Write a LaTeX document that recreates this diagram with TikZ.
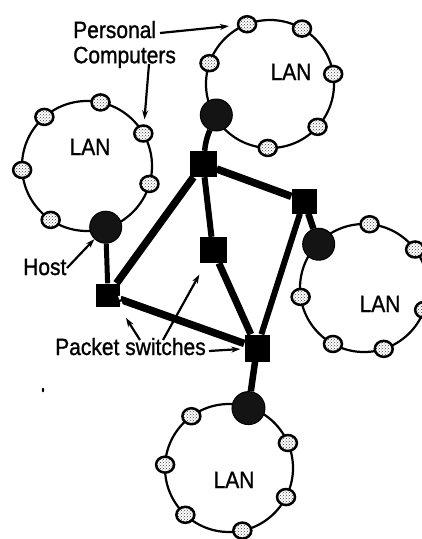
\documentclass[tikz,border=0pt]{standalone}
\usepackage{graphicx}
\usepackage{fontspec}
\setmainfont{Liberation Sans}[FakeBold=1.2]
\usetikzlibrary{shapes.geometric,arrows.meta,patterns,calc}
\newcommand\tallbox[1]{\scalebox{1}[1.12]{#1}}
\begin{document}
\begin{tikzpicture}[x=1pt,y=-1pt,
  ring/.style={draw, line width=2.2pt},
  pc/.style={ellipse, draw, line width=2.5pt, minimum width=18pt, minimum height=16pt, inner sep=0pt,
     preaction={fill=white}, pattern=crosshatch dots, pattern color=black!75},
  host/.style={circle, fill=black!92, draw=black, line width=1pt, minimum size=32pt, inner sep=0pt},
  switchbox/.style={rectangle, fill=black, minimum width=25pt, minimum height=25pt, inner sep=0pt},
  link/.style={line width=6pt},
  callout/.style={line width=2.2pt, -{Stealth[length=9pt,width=6pt]}},
  lab/.style={font=\fontsize{21}{23}\selectfont, inner sep=0pt}
]
\useasboundingbox (0,0) rectangle (422,539);
\clip (0,0) rectangle (422,539);

% ring centres
\coordinate (Ctop) at (270,84);
\coordinate (Cleft) at (87,166);
\coordinate (Cright) at (364,288);
\coordinate (Cbot) at (229,468);

% rings
\draw[ring] (Ctop) circle[radius=64];
\draw[ring] (Cleft) circle[radius=65];
\draw[ring] (Cright) circle[radius=64];
\draw[ring] (Cbot) circle[radius=64];

% LAN labels
\node[lab, anchor=base] (lanT) at (291,80) {\tallbox{LAN}};
\node[lab, anchor=base] (lanL) at (90,155) {\tallbox{LAN}};
\node[lab, anchor=base] (lanR) at (380,312) {\tallbox{LAN}};
\node[lab, anchor=base] (lanB) at (234,488) {\tallbox{LAN}};

% personal computers
\foreach \a [count=\i] in {249,-60,-9,42,92,199}
  \node[pc] (t\i) at ($(Ctop)+(\a:64)$) {};
\foreach \a [count=\i] in {-78,-30,16,124,176.5,-131}
  \node[pc] (l\i) at ($(Cleft)+(\a:65)$) {};
\foreach \a [count=\i] in {-85,-37,20,72,119,172}
  \node[pc] (r\i) at ($(Cright)+(\a:64)$) {};
\foreach \a [count=\i] in {-126,-23,183,27,133,78}
  \node[pc] (b\i) at ($(Cbot)+(\a:64)$) {};

% hosts
\node[host] (Htop) at ($(Ctop)+(150:62)$) {};
\node[host] (Hleft) at ($(Cleft)+(73:64)$) {};
\node[host] (Hright) at ($(Cright)+(-136:63)$) {};
\node[host, minimum size=33pt] (Hbot) at ($(Cbot)+(-72:63)$) {};

% packet switches
\node[switchbox, minimum width=27pt, minimum height=26pt] (S1) at (203,164) {};
\node[switchbox] (S2) at (304,201) {};
\node[switchbox, minimum width=27pt, minimum height=26pt] (S3) at (213,250) {};
\node[switchbox, minimum width=24pt, minimum height=23pt] (S4) at (108,295) {};
\node[switchbox, minimum width=25pt, minimum height=27pt] (S5) at (257,348) {};

% links
\draw[link, line width=5.5pt] (Htop) to[bend right=8] (S1);
\draw[link, line width=7.5pt] (S1) -- (S2);
\draw[link, line width=6pt] (S1) -- (S3);
\draw[link, line width=7.5pt] (S1) -- (S4);
\draw[link, line width=6pt] (S2) -- (S5);
\draw[link, line width=6.5pt] (S2) -- (Hright);
\draw[link, line width=7pt] (S3) -- (S5);
\draw[link, line width=7.5pt] (S4) -- (S5);
\draw[link, line width=5pt] (Hleft) -- (S4);
\draw[link, line width=6.5pt] (S5) -- (Hbot);

% labels
\node[lab, anchor=base west] (pcl) at (73,38)
  {\tallbox{\begin{tabular}[t]{@{}l@{}}Personal\\[-0.5pt]Computers\end{tabular}}};
\node[lab, anchor=base west] (hostl) at (23,275) {\tallbox{Host}};
\node[lab, anchor=base west] (psl) at (55,355) {\tallbox{Packet switches}};

% callout start points
\coordinate (pe) at (160,33);
\coordinate (ce) at (149,64);
\coordinate (he) at (67,268);
\coordinate (pa) at (140,340);
\coordinate (pb) at (163,340);
\coordinate (pc) at (209,351);
\coordinate (paTip) at (126,318);
\coordinate (paIn) at (119,296);

% callouts
\draw[callout, shorten >=8pt] (pe) -- (t1);
\draw[callout, shorten >=5pt] (ce) -- (l2);
\draw[callout] (he) -- (Hleft);
\draw[callout] (pa) -- (paTip);
\draw[white, line width=1.8pt, dash pattern=on 4pt off 2.5pt] (paTip) -- (paIn);
\draw[callout, shorten >=13pt] (pb) -- (S3);
\draw[callout, shorten >=4pt] (pc) -- (S5);

% speck
\node[fill=black, ellipse, minimum width=2.5pt, minimum height=4.5pt, inner sep=0pt] (speck) at (43,390) {};
\end{tikzpicture}
\end{document}
